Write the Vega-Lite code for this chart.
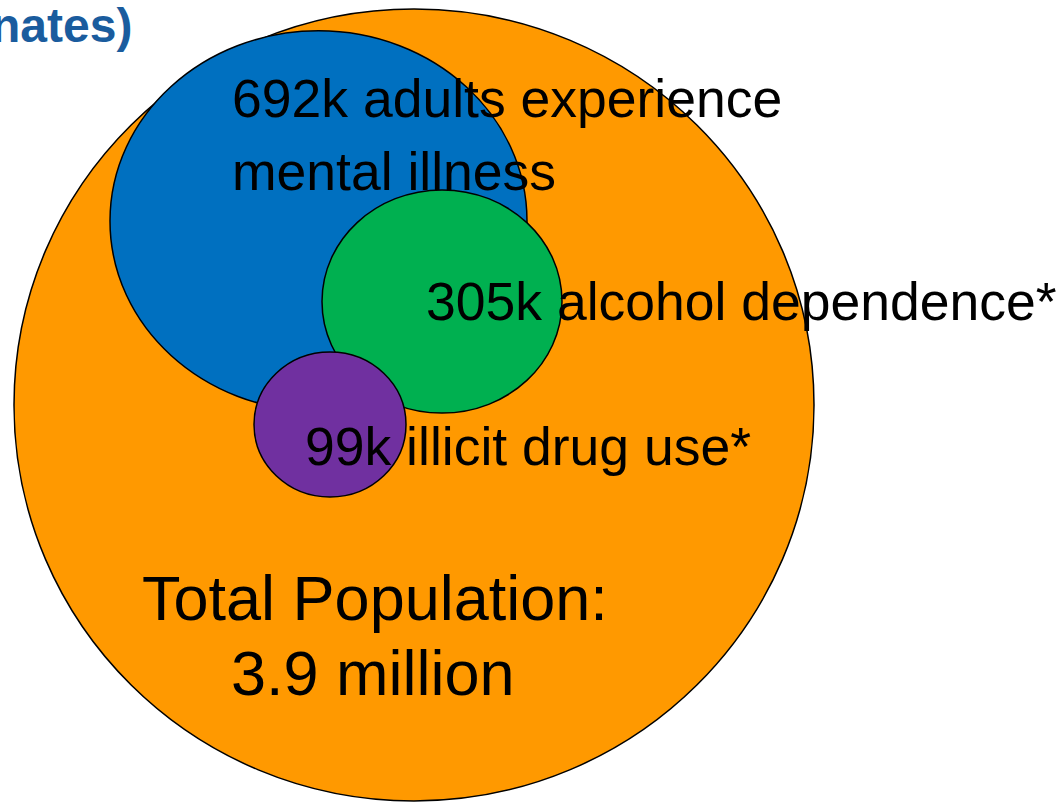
{
  "$schema": "https://vega.github.io/schema/vega-lite/v6.json",
  "width": 1057,
  "height": 802,
  "autosize": {"type": "none"},
  "padding": 0,
  "background": "white",
  "config": {"view": {"stroke": null}, "font": "Liberation Sans"},
  "datasets": {
    "circles": [
      {"group": "Total Population", "cx": 414, "cy": 405, "d": 800},
      {"group": "Mental illness", "cx": 318.5, "cy": 221, "d": 417},
      {"group": "Alcohol dependence", "cx": 442, "cy": 301.5, "d": 240},
      {"group": "Illicit drug use", "cx": 330, "cy": 424.5, "d": 152}
    ],
    "labels": [
      {"text": "692k adults experience", "x": 232, "y": 117},
      {"text": "mental illness", "x": 232, "y": 190},
      {"text": "305k alcohol dependence*", "x": 426, "y": 320},
      {"text": "99k illicit drug use*", "x": 305, "y": 465}
    ],
    "bigLabels": [
      {"text": "Total Population:", "x": 142, "y": 620},
      {"text": "3.9 million", "x": 231, "y": 695}
    ],
    "titleText": [
      {"text": "nates)", "x": -9, "y": 42}
    ]
  },
  "layer": [
    {
      "data": {"name": "circles"},
      "mark": {"type": "point", "filled": true, "opacity": 1, "stroke": "black", "strokeWidth": 1.5},
      "encoding": {
        "x": {"field": "cx", "type": "quantitative", "scale": {"domain": [0, 1057], "nice": false, "zero": false}, "axis": null},
        "y": {"field": "cy", "type": "quantitative", "scale": {"domain": [0, 802], "nice": false, "zero": false, "reverse": true}, "axis": null},
        "size": {"field": "d", "type": "quantitative", "scale": {"type": "pow", "exponent": 2, "domain": [0, 1000], "range": [0, 1000000], "zero": true}, "legend": null},
        "fill": {"field": "group", "type": "nominal", "scale": {"domain": ["Total Population", "Mental illness", "Alcohol dependence", "Illicit drug use"], "range": ["#FF9900", "#0070C0", "#00B050", "#7030A0"]}, "legend": null},
        "shape": {"field": "group", "type": "nominal", "scale": {"domain": ["Total Population", "Mental illness", "Alcohol dependence", "Illicit drug use"], "range": [
          "M-1,0A1,0.99 0 1,1 1,0A1,0.99 0 1,1 -1,0Z",
          "M-1,0A1,0.912 0 1,1 1,0A1,0.912 0 1,1 -1,0Z",
          "M-1,0A1,0.93 0 1,1 1,0A1,0.93 0 1,1 -1,0Z",
          "M-1,0A1,0.954 0 1,1 1,0A1,0.954 0 1,1 -1,0Z"
        ]}, "legend": null},
        "order": {"value": 0}
      }
    },
    {
      "data": {"name": "labels"},
      "mark": {"type": "text", "align": "left", "baseline": "alphabetic", "fontSize": 53.5, "font": "Liberation Sans", "color": "black"},
      "encoding": {
        "x": {"field": "x", "type": "quantitative"},
        "y": {"field": "y", "type": "quantitative"},
        "text": {"field": "text"}
      }
    },
    {
      "data": {"name": "bigLabels"},
      "mark": {"type": "text", "align": "left", "baseline": "alphabetic", "fontSize": 63, "font": "Liberation Sans", "color": "black"},
      "encoding": {
        "x": {"field": "x", "type": "quantitative"},
        "y": {"field": "y", "type": "quantitative"},
        "text": {"field": "text"}
      }
    },
    {
      "data": {"name": "titleText"},
      "mark": {"type": "text", "align": "left", "baseline": "alphabetic", "fontSize": 48, "fontWeight": "bold", "font": "Liberation Sans", "color": "#1A5C9E"},
      "encoding": {
        "x": {"field": "x", "type": "quantitative"},
        "y": {"field": "y", "type": "quantitative"},
        "text": {"field": "text"}
      }
    }
  ]
}
